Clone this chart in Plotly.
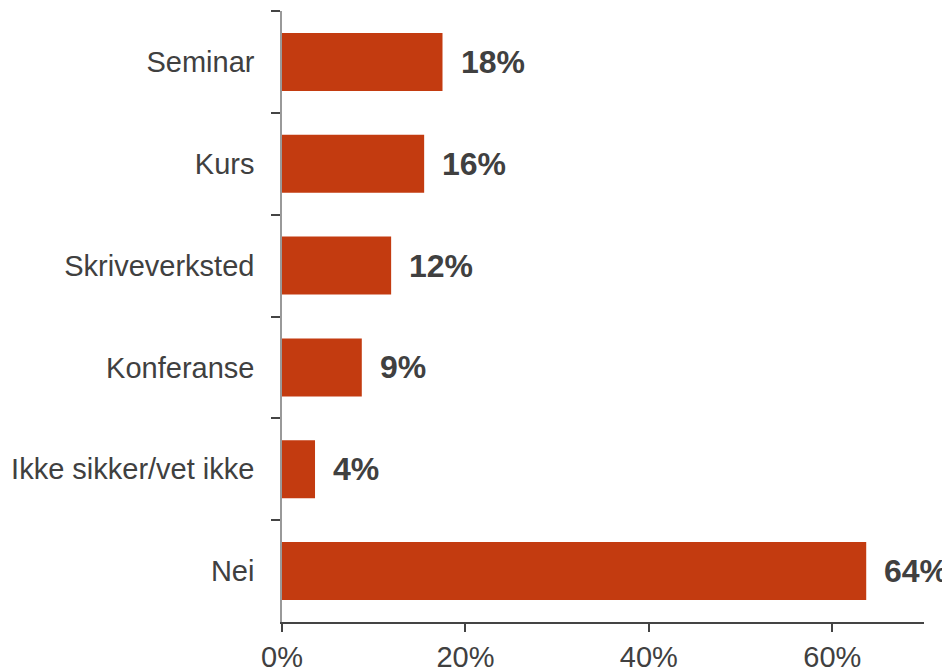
import plotly.graph_objects as go

categories = ["Seminar", "Kurs", "Skriveverksted", "Konferanse", "Ikke sikker/vet ikke", "Nei"]
values = [0.175, 0.155, 0.119, 0.087, 0.036, 0.637]
labels = ["18%", "16%", "12%", "9%", "4%", "64%"]

bar_color = "#C33B10"
text_color = "#404040"

fig = go.Figure()
fig.add_trace(go.Bar(
    x=values, y=categories, orientation="h",
    marker=dict(color=bar_color, line=dict(width=0)),
    hoverinfo="skip",
))
for v, c, t in zip(values, categories, labels):
    fig.add_annotation(
        x=v, y=c, text=t, showarrow=False, xanchor="left", yanchor="middle",
        xshift=16, font=dict(family="Liberation Sans, Arial", size=32, color=text_color,
                             weight="bold"),
    )

# page body has an 8px margin, so the figure is 942x662 and left/top margins are reduced
fig.update_layout(
    width=942, height=662,
    margin=dict(l=274, r=26, t=3, b=48),
    paper_bgcolor="white", plot_bgcolor="white",
    bargap=0.43,
    showlegend=False,
    font=dict(family="Liberation Sans, Arial", size=29, color=text_color),
)
fig.update_xaxes(
    range=[0, 0.7], dtick=0.2, tickformat=".0%",
    showgrid=False, zeroline=False, automargin=False,
    showline=True, linecolor="#444444", linewidth=1.5,
    ticks="outside", ticklen=8, tickcolor="#444444", tickwidth=1.5,
    tickfont=dict(size=29, color=text_color),
)
fig.update_yaxes(
    categoryorder="array", categoryarray=categories, autorange="reversed",
    showgrid=False, zeroline=False, automargin=False,
    showline=True, linecolor="#999999", linewidth=1.5,
    ticks="outside", ticklen=9, tickcolor="#444444", tickwidth=1.5,
    tickson="boundaries", ticklabelstandoff=20,
    tickfont=dict(size=29, color=text_color),
)

fig.write_html(
    "out.html",
    post_script="document.documentElement.style.overflow='hidden';document.body.style.overflow='hidden';",
)
